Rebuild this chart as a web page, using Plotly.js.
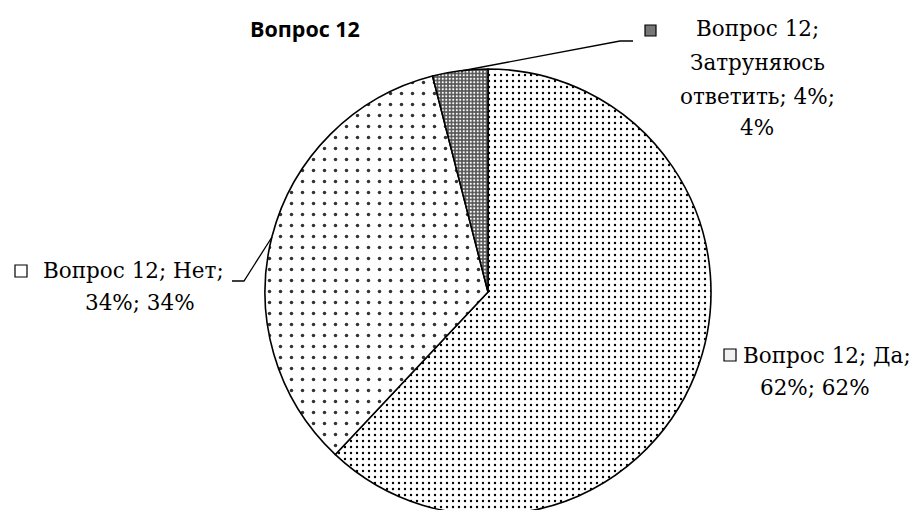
<!DOCTYPE html>
<html>
<head>
<meta charset="utf-8">
<script src="https://cdn.plot.ly/plotly-3.0.1.min.js"></script>
<style>html,body{margin:0;padding:0;overflow:hidden;background:#fff}</style>
</head>
<body>
<div id="chart" style="width:914px;height:515px"></div>
<script>
var categories = ["Да", "Нет", "Затруняюсь ответить"];
var values = [62, 34, 4];
var seriesName = "Вопрос 12";

var W = 914, H = 515;
function px(x){ return x / W; }
function py(y){ return 1 - y / H; }

var serif = "DejaVu Serif";
var fs = 21.5;

var trace = {
  type: "pie",
  labels: categories,
  values: values,
  sort: false,
  direction: "clockwise",
  rotation: 0,
  textinfo: "none",
  hoverinfo: "label+percent",
  showlegend: false,
  domain: {x: [px(488-223), px(488+223)], y: [py(292+223), py(292-223)]},
  marker: {
    colors: ["#ffffff", "#ffffff", "#ffffff"],
    line: {color: "#000000", width: 1.6},
    pattern: {
      shape: [".", ".", "."],
      fgcolor: ["#000000", "#333333", "#ffffff"],
      bgcolor: ["#ffffff", "#ffffff", "#555555"],
      size: [6, 11, 3.5],
      solidity: [0.12, 0.08, 0.3],
      fillmode: "replace"
    }
  }
};

function ann(text, x, y, opts){
  var a = {text: text, x: px(x), y: py(y), xref: "paper", yref: "paper",
    xanchor: "center", yanchor: "middle", showarrow: false,
    font: {family: serif, size: fs, color: "#000"}};
  if (opts) for (var k in opts) a[k] = opts[k];
  return a;
}

var pct = values.map(function(v){ return v + "%"; });

var annotations = [
  ann("<b>" + seriesName + "</b>", 305, 28, {font: {family: "Open Sans", size: 21.5, color: "#000"}}),
  ann(seriesName + ";", 757, 28),
  ann("Затруняюсь", 757, 62),
  ann("ответить; " + pct[2] + ";", 757, 96),
  ann(pct[2], 757, 127),
  ann(seriesName + "; " + categories[1] + ";", 133, 270),
  ann(pct[1] + "; " + pct[1], 140, 302),
  ann(seriesName + "; " + categories[0] + ";", 827, 355),
  ann(pct[0] + "; " + pct[0], 815, 387)
];

function rect(x0, y0, x1, y1, fill){
  return {type: "rect", xref: "paper", yref: "paper",
    x0: px(x0), x1: px(x1), y0: py(y1), y1: py(y0),
    fillcolor: fill, line: {color: "#000", width: 1.2}};
}
function path(pts){
  var d = pts.map(function(p, i){ return (i ? "L" : "M") + px(p[0]) + "," + py(p[1]); }).join(" ");
  return {type: "path", xref: "paper", yref: "paper", path: d, line: {color: "#000", width: 1.3}};
}

var shapes = [
  rect(645, 25, 656, 36, "#777777"),
  rect(15, 265, 27, 277, "#ffffff"),
  rect(724, 349, 736, 361, "#f2f2f2"),
  path([[461, 71], [620, 41], [633, 41]]),
  path([[272, 237], [244, 281], [232, 281]])
];

var layout = {
  width: W, height: H,
  margin: {l: 0, r: 0, t: 0, b: 0},
  paper_bgcolor: "#ffffff",
  plot_bgcolor: "#ffffff",
  showlegend: false,
  annotations: annotations,
  shapes: shapes
};

Plotly.newPlot("chart", [trace], layout, {displayModeBar: false, staticPlot: true});
</script>
</body>
</html>
